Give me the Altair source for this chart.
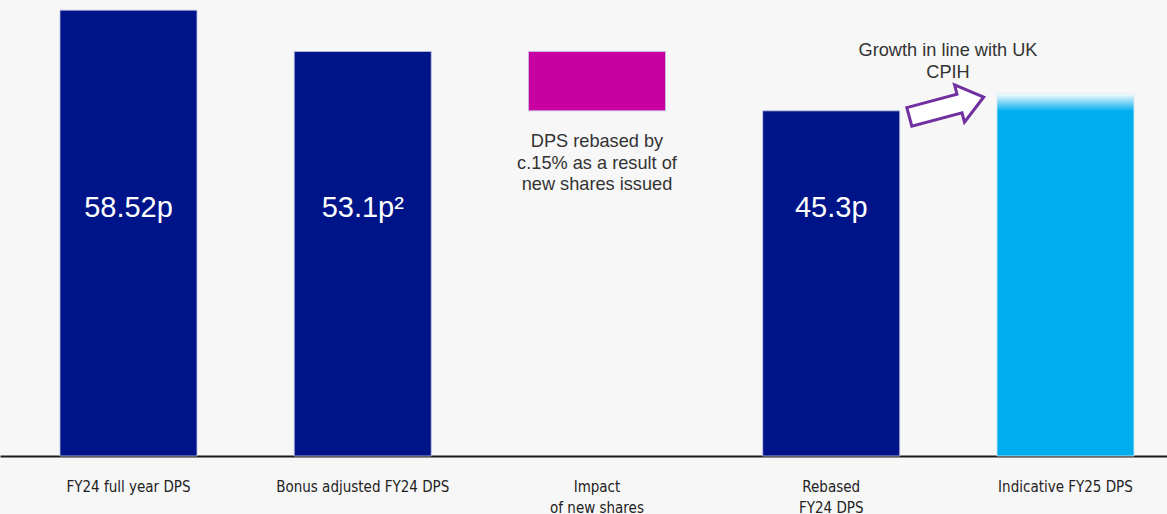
import altair as alt
import pandas as pd

categories = ["FY24 full year DPS", "Bonus adjusted FY24 DPS", "Impact|of new shares",
              "Rebased|FY24 DPS", "Indicative FY25 DPS"]
bar_start = [0, 0, 45.3, 0, 0]
bar_end = [58.52, 53.1, 53.1, 45.3, 47.6]
bar_kind = ["base", "base", "impact", "base", "growth"]
bar_labels = ["58.52p", "53.1p\u00b2", "", "45.3p", ""]

impact_note = "DPS rebased by\nc.15% as a result of\nnew shares issued"
growth_note = "Growth in line with UK\nCPIH"

df = pd.DataFrame({"cat": categories, "start": bar_start, "end": bar_end,
                   "kind": bar_kind, "label": bar_labels})

x = alt.X("cat:N", sort=categories, title=None,
          scale=alt.Scale(paddingInner=0.415, paddingOuter=0.1985, align=0.645),
          axis=alt.Axis(labelExpr="split(datum.label, '|')", labelAngle=0, ticks=False,
                        labelPadding=23, labelFontSize=15, labelLineHeight=21,
                        labelFont="Liberation Sans Narrow, DejaVu Sans Condensed, sans-serif",
                        labelColor="#222222", domainColor="#1a1a1a", domainWidth=2,
                        labelBaseline="top"))
y = alt.Y("start:Q", scale=alt.Scale(domain=[0, 59.85], nice=False, zero=True),
          axis=None, title=None)

base = alt.Chart(df)

bars = base.transform_filter("datum.kind != 'growth'").mark_bar(
    stroke="#c4c8e4", strokeWidth=0.8).encode(
    x=x, y=y, y2="end:Q",
    color=alt.Color("kind:N", legend=None,
                    scale=alt.Scale(domain=["base", "impact"], range=["#001489", "#C800A1"])))

growth_bar = base.transform_filter("datum.kind == 'growth'").mark_bar(
    stroke="#d8e8f0", strokeWidth=0.8,
    color=alt.Gradient(gradient="linear", x1=0, y1=0, x2=0, y2=1,
                       stops=[alt.GradientStop(color="#ffffff", offset=0),
                              alt.GradientStop(color="#7fd5f6", offset=0.025),
                              alt.GradientStop(color="#00AEEF", offset=0.05),
                              alt.GradientStop(color="#00AEEF", offset=1)])).encode(
    x=x, y=y, y2="end:Q")

bar_text = base.transform_filter("datum.label != ''").mark_text(
    color="white", fontSize=29, font="Liberation Sans, Arial, sans-serif",
    baseline="middle", align="center").encode(
    x=x, y=alt.value(208), text="label:N")

notes = pd.DataFrame({"cat": [categories[2]], "note": [impact_note]})
impact_text = alt.Chart(notes).mark_text(
    fontSize=18.2, color="#333333", font="Liberation Sans, Arial, sans-serif",
    lineBreak="\n", lineHeight=21.5, align="center", baseline="middle").encode(
    x=x, y=alt.value(142), text="note:N")

gnotes = pd.DataFrame({"note": [growth_note]})
growth_text = alt.Chart(gnotes).mark_text(
    fontSize=18.2, color="#333333", font="Liberation Sans, Arial, sans-serif",
    lineBreak="\n", lineHeight=22, align="center", baseline="middle").encode(
    x=alt.value(948), y=alt.value(51), text="note:N")

arrow_path = "M -1 -0.25 L 0.35 -0.25 L 0.35 -0.5 L 1 0 L 0.35 0.5 L 0.35 0.25 L -1 0.25 Z"
arrow = alt.Chart(gnotes).mark_point(
    shape=arrow_path, size=5929, filled=True, fill="white", stroke="#7030A0",
    strokeWidth=3, opacity=1, angle=345).encode(
    x=alt.value(946.5), y=alt.value(107))

chart = alt.layer(bars, growth_bar, bar_text, impact_text, growth_text, arrow).properties(
    width=1167, height=456,
    padding={"left": 0, "top": 0, "right": 0, "bottom": 58},
    autosize=alt.AutoSizeParams(type="none")
).configure(background="#f7f7f7").configure_view(stroke=None)

chart.save("out.html", embed_options={"renderer": "svg", "actions": False})
